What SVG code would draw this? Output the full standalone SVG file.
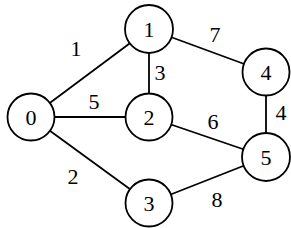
<svg xmlns="http://www.w3.org/2000/svg" width="291" height="228" viewBox="0 0 291 228">
<style>
.n circle{fill:#fff;stroke:#000;stroke-width:1.8}
text{font-family:'Liberation Serif','Times New Roman',serif;font-size:22px;fill:#000;text-anchor:middle}
#edges line{stroke:#000;stroke-width:1.8}
</style>
<rect width="291" height="228" fill="#fff"/>
<g id="edges">
<line x1="31" y1="117" x2="149" y2="29"/>
<line x1="31" y1="117" x2="149" y2="117"/>
<line x1="31" y1="117" x2="149" y2="203"/>
<line x1="149" y1="29" x2="149" y2="117"/>
<line x1="149" y1="29" x2="266" y2="72"/>
<line x1="149" y1="117" x2="266" y2="157"/>
<line x1="266" y1="72" x2="266" y2="157"/>
<line x1="149" y1="203" x2="266" y2="157"/>
<text x="76" y="56">1</text>
<text x="94" y="109">5</text>
<text x="73" y="184">2</text>
<text x="160" y="80">3</text>
<text x="215" y="42">7</text>
<text x="213" y="129">6</text>
<text x="281" y="120">4</text>
<text x="217" y="207">8</text>
</g>
<g id="node0" class="n"><circle cx="31" cy="117" r="23.5"/><text x="31" y="124.5">0</text></g>
<g id="node1" class="n"><circle cx="149" cy="29" r="24"/><text x="149" y="36.5">1</text></g>
<g id="node2" class="n"><circle cx="149" cy="117" r="23.5"/><text x="149" y="124.5">2</text></g>
<g id="node3" class="n"><circle cx="149" cy="203" r="23.5"/><text x="149" y="210.5">3</text></g>
<g id="node4" class="n"><circle cx="266" cy="72" r="23.5"/><text x="266" y="79.5">4</text></g>
<g id="node5" class="n"><circle cx="266" cy="157" r="24"/><text x="266" y="164.5">5</text></g>
</svg>
